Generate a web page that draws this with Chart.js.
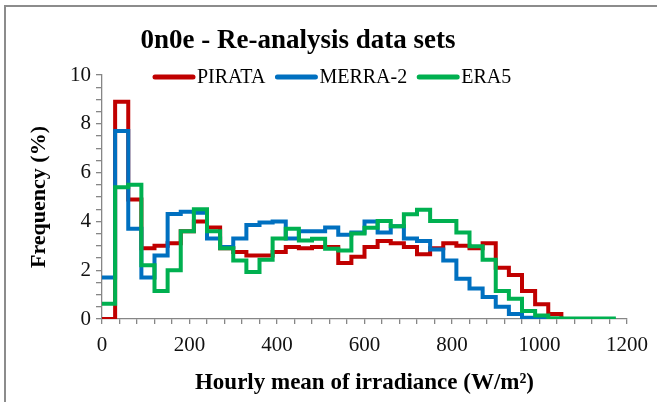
<!DOCTYPE html>
<html lang="en">
<head>
<meta charset="utf-8">
<title>0n0e - Re-analysis data sets</title>
<script src="https://cdn.jsdelivr.net/npm/chart.js@4.4.1/dist/chart.umd.min.js"></script>
<style>
  html, body { margin: 0; padding: 0; background: #fff; }
  #marco { position: relative; width: 657px; height: 402px; overflow: hidden; }
  #marco::before {
    content: ''; position: absolute; left: 4px; top: 5px; right: -4px; bottom: -4px;
    border-top: 2px solid #8c8c8c; border-left: 2px solid #8c8c8c;
  }
  canvas { position: absolute; left: 0; top: 0; }
</style>
</head>
<body>
<div id="marco"><canvas id="grafico" width="657" height="402"></canvas></div>
<script>
/* Histograma de irradiancia horaria (0n0e): PIRATA vs reanálisis */

var TITULO = '0n0e - Re-analysis data sets';
var FUENTE = "'Liberation Serif', 'Times New Roman', serif";

/* inicio de cada intervalo (W/m²); el último valor cierra la serie */
var binEdges = [0, 30, 60, 90, 120, 150, 180, 210, 240, 270, 300, 330, 360, 390,
  420, 450, 480, 510, 540, 570, 600, 630, 660, 690, 720, 750, 780, 810, 840, 870,
  900, 930, 960, 990, 1020, 1050, 1080, 1110, 1140, 1170];

/* frecuencias (%) por intervalo */
var pirata = [0, 8.9, 4.9, 2.9, 3.0, 3.1, 3.6, 4.0, 3.75, 2.9, 2.75, 2.6, 2.6, 2.75,
  2.95, 2.9, 2.95, 2.95, 2.3, 2.55, 2.95, 3.2, 3.1, 2.95, 2.65, 2.9, 3.1, 3.0, 2.9,
  3.1, 2.1, 1.8, 1.15, 0.6, 0.2, 0];
var merra2 = [1.7, 7.7, 3.7, 1.7, 2.6, 4.3, 4.4, 4.35, 3.3, 2.95, 3.3, 3.85, 3.95,
  4.0, 3.3, 3.6, 3.6, 3.75, 3.45, 3.55, 4.0, 3.55, 3.8, 3.3, 3.2, 2.85, 2.4, 1.65,
  1.25, 0.9, 0.5, 0.2, 0.05, 0.02, 0];
var era5 = [0.63, 5.4, 5.5, 2.2, 1.15, 2.0, 3.6, 4.5, 3.6, 2.9, 2.4, 1.93, 2.43, 3.3,
  3.7, 3.22, 3.29, 2.88, 2.81, 3.5, 3.74, 4.02, 3.8, 4.29, 4.48, 4.02, 4.02, 3.54,
  2.98, 2.43, 1.15, 0.83, 0.33, 0.14, 0.03, 0.02, 0.02, 0.02, 0.02, 0];

var xTickLabels = [0, 200, 400, 600, 800, 1000, 1200];
var yTickLabels = [0, 2, 4, 6, 8, 10];

var ROJO = '#C00000';
var AZUL = '#0070C0';
var VERDE = '#00B050';
var GRIS = '#868686';

function puntos(valores) {
  return valores.map(function (v, i) { return { x: binEdges[i], y: v }; });
}

function serie(nombre, valores, color, orden) {
  return {
    label: nombre,
    data: puntos(valores),
    borderColor: color,
    backgroundColor: color,
    borderWidth: 4,
    stepped: true,
    pointRadius: 0,
    fill: false,
    order: orden
  };
}

/* título y leyenda dibujados a mano (la leyenda va dentro del área) */
var rotulos = {
  id: 'rotulos',
  afterDraw: function (chart) {
    var ctx = chart.ctx;
    ctx.save();
    ctx.fillStyle = '#000';
    ctx.font = 'bold 27px ' + FUENTE;
    ctx.textAlign = 'center';
    ctx.textBaseline = 'middle';
    ctx.fillText(TITULO, 298, 41);

    ctx.font = '20px ' + FUENTE;
    ctx.textAlign = 'left';
    var x = 153, y = 77;
    chart.data.datasets.forEach(function (ds) {
      ctx.strokeStyle = ds.borderColor;
      ctx.lineWidth = 5;
      ctx.lineCap = 'round';
      ctx.beginPath();
      ctx.moveTo(x + 2, y);
      ctx.lineTo(x + 40, y);
      ctx.stroke();
      ctx.fillText(ds.label, x + 44, y + 1);
      x += 44 + ctx.measureText(ds.label).width + 10;
    });
    ctx.restore();
  }
};

new Chart(document.getElementById('grafico'), {
  type: 'line',
  data: {
    datasets: [
      serie('PIRATA', pirata, ROJO, 3),
      serie('MERRA-2', merra2, AZUL, 2),
      serie('ERA5', era5, VERDE, 1)
    ]
  },
  options: {
    responsive: false,
    animation: false,
    layout: { padding: { top: 75, right: 28, bottom: 0, left: 0 } },
    plugins: { legend: { display: false }, tooltip: { enabled: false } },
    scales: {
      x: {
        type: 'linear',
        min: 0,
        max: 1200,
        afterFit: function (s) { s.height = 83; },
        border: { color: GRIS, width: 1.3 },
        grid: { drawOnChartArea: false, drawTicks: true, tickLength: 5, color: GRIS, lineWidth: 1.3 },
        ticks: {
          stepSize: 40,
          autoSkip: false,
          maxRotation: 0,
          padding: 9,
          color: '#111',
          font: { family: FUENTE, size: 21 },
          callback: function (v) { return xTickLabels.indexOf(v) >= 0 ? String(v) : ''; }
        },
        title: {
          display: true,
          text: 'Hourly mean of irradiance (W/m²)',
          color: '#000',
          font: { family: FUENTE, size: 23, weight: 'bold' },
          padding: { top: 0, bottom: 5 }
        }
      },
      y: {
        min: 0,
        max: 10,
        afterFit: function (s) { s.width = 102; },
        border: { color: GRIS, width: 1.3 },
        grid: { drawOnChartArea: false, drawTicks: true, tickLength: 6, color: GRIS, lineWidth: 1.3 },
        ticks: {
          stepSize: 0.5,
          autoSkip: false,
          padding: 5,
          color: '#111',
          font: { family: FUENTE, size: 21 },
          callback: function (v) { return yTickLabels.indexOf(v) >= 0 ? String(v) : ''; }
        },
        title: {
          display: true,
          text: 'Frequency (%)',
          color: '#000',
          font: { family: FUENTE, size: 22, weight: 'bold' },
          padding: { top: 26, bottom: 0 }
        }
      }
    }
  },
  plugins: [rotulos]
});
</script>
</body>
</html>
